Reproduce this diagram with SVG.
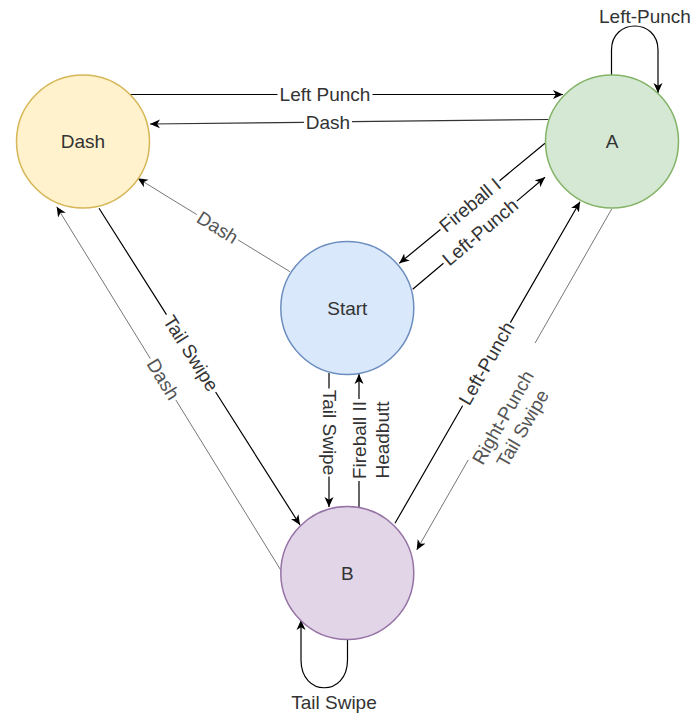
<svg xmlns="http://www.w3.org/2000/svg" width="700" height="714" viewBox="0 0 700 714">
<style>
.node text{font-family:"Liberation Sans",Arial,sans-serif;font-size:19px;fill:#333;text-anchor:middle;dominant-baseline:central}
.lbl{font-family:"Liberation Sans",Arial,sans-serif;font-size:19px;fill:#333;text-anchor:middle;dominant-baseline:central}
.lbl.g{fill:#555}
.e{fill:none;stroke:#000;stroke-width:1.2}
.e.g{stroke:#777;stroke-width:1}
.e.m{stroke:#333}
</style>
<defs>
<marker id="ak" viewBox="0 0 10 10" refX="10" refY="5" markerWidth="10" markerHeight="10" orient="auto" markerUnits="userSpaceOnUse"><path d="M0,0.5 L10,5 L0,9.5 L2.8,5 Z" fill="#000"/></marker>
</defs>
<rect width="700" height="714" fill="#fff"/>
<g id="connectors">
<path class="e" d="M130,94.5 H277.5 M372.5,94.5 H563" marker-end="url(#ak)"/>
<text class="lbl" x="325" y="94.5">Left Punch</text>
<path class="e m" d="M548.5,119.5 L352,121.7 M304,122.3 L150,124" marker-end="url(#ak)"/>
<text class="lbl" x="328" y="122">Dash</text>
<path class="e" d="M545,143.3 L499.6,180.7 M440.4,229.5 L399.3,263.3" marker-end="url(#ak)"/>
<text class="lbl" x="470" y="205" transform="rotate(-39.5 470 205)">Fireball I</text>
<path class="e" d="M412.7,289.3 L443.5,263.2 M516.8,201.1 L545,177.3" marker-end="url(#ak)"/>
<text class="lbl" x="480.2" y="232.2" transform="rotate(-40.25 480.2 232.2)">Left-Punch</text>
<path class="e g" d="M290,271.7 L238.1,239.9 M196.8,214.6 L137.7,178.3" marker-end="url(#ak)"/>
<text class="lbl g" x="217.5" y="227.5" transform="rotate(31.5 217.5 227.5)">Dash</text>
<path class="e" d="M99,208.3 L166.5,314.6 M215.6,392 L300,525" marker-end="url(#ak)"/>
<text class="lbl" x="191" y="353.3" transform="rotate(57.6 191 353.3)">Tail Swipe</text>
<path class="e g" d="M280.7,570 L175.8,399.9 M150.4,358.7 L56.7,206.7" marker-end="url(#ak)"/>
<text class="lbl g" x="163.1" y="379.3" transform="rotate(58.3 163.1 379.3)">Dash</text>
<path class="e" d="M329,373 V388.5 M329,476.5 V507" marker-end="url(#ak)"/>
<text class="lbl" x="329" y="432.5" transform="rotate(90 329 432.5)">Tail Swipe</text>
<path class="e" d="M359,507 V481 M359,399 V374" marker-end="url(#ak)"/>
<text class="lbl" x="359" y="440" transform="rotate(-90 359 440)">Fireball II</text>
<text class="lbl" x="382" y="440" transform="rotate(-90 382 440)">Headbutt</text>
<path class="e g" d="M611.7,209 L535.1,343 M468.2,460 L416.7,550" marker-end="url(#ak)"/>
<text class="lbl g" x="503" y="417.5" transform="rotate(-60.2 503 417.5)">Right-Punch</text>
<text class="lbl g" x="522.5" y="428.5" transform="rotate(-60.2 522.5 428.5)">Tail Swipe</text>
<path class="e" d="M395,523.3 L462.6,405.8 M510.4,322.6 L580,201.7" marker-end="url(#ak)"/>
<text class="lbl" x="486.5" y="363.3" transform="rotate(-60.1 486.5 363.3)">Left-Punch</text>
<path class="e" d="M611.5,75 L611.5,50 C611.5,18 658,18 658,50 L658,93" marker-end="url(#ak)"/>
<text class="lbl" x="645" y="16">Left-Punch</text>
<path class="e" d="M347.5,639 L347.5,660 C347.5,697 301,697 301,660 L301,620" marker-end="url(#ak)"/>
<text class="lbl" x="334" y="702">Tail Swipe</text>
</g>
<g id="dash" class="node"><circle cx="83" cy="141.5" r="66.5" fill="#fff2cc" stroke="#d6b656" stroke-width="1.5"/><text x="83" y="141.5">Dash</text></g>
<g id="a" class="node"><circle cx="612" cy="141.5" r="66.5" fill="#d5e8d4" stroke="#82b366" stroke-width="1.5"/><text x="612" y="141.5">A</text></g>
<g id="start" class="node"><circle cx="347.3" cy="308" r="66.5" fill="#dae8fc" stroke="#6c8ebf" stroke-width="1.5"/><text x="347.3" y="308">Start</text></g>
<g id="b" class="node"><circle cx="347.3" cy="573" r="66.5" fill="#e1d5e7" stroke="#9673a6" stroke-width="1.5"/><text x="347.3" y="573">B</text></g>
</svg>
